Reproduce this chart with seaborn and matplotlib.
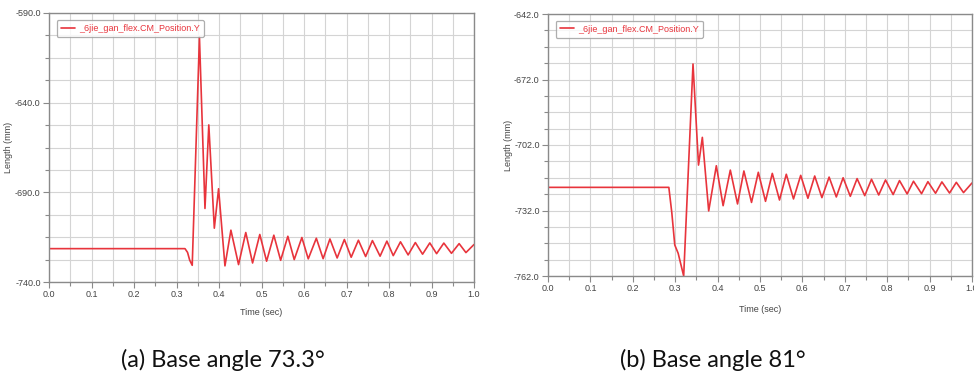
import matplotlib
matplotlib.use("Agg")
import matplotlib.pyplot as plt
import seaborn as sns
import pandas as pd
from matplotlib.ticker import MultipleLocator, FormatStrFormatter

# ---------------- data ----------------
series_label = "_6jie_gan_flex.CM_Position.Y"

time_a = [0.0, 0.320, 0.326, 0.331, 0.337, 0.354, 0.367, 0.376, 0.389, 0.399,
          0.414, 0.428, 0.446, 0.463, 0.479, 0.496, 0.512, 0.529, 0.545, 0.562,
          0.577, 0.595, 0.610, 0.629, 0.645, 0.661, 0.678, 0.695, 0.711, 0.728,
          0.745, 0.761, 0.779, 0.795, 0.810, 0.827, 0.845, 0.862, 0.879, 0.896,
          0.912, 0.929, 0.947, 0.965, 0.981, 1.0]
length_a = [-721.4, -721.4, -723.5, -727.8, -730.7, -603.4, -699.0, -652.4, -710.0, -688.0,
            -731.0, -711.1, -730.3, -712.4, -729.4, -713.5, -728.4, -713.9, -727.9, -714.5,
            -727.5, -715.2, -727.1, -715.6, -727.0, -716.0, -726.6, -716.3, -726.2, -716.7,
            -725.8, -716.9, -725.6, -717.2, -725.3, -717.6, -724.9, -718.0, -724.5, -718.2,
            -724.2, -718.3, -724.0, -718.6, -723.6, -719.1]

time_b = [0.0, 0.285, 0.292, 0.299, 0.307, 0.320, 0.342, 0.355, 0.364, 0.379,
          0.397, 0.413, 0.430, 0.447, 0.462, 0.480, 0.496, 0.513, 0.529, 0.546,
          0.562, 0.579, 0.596, 0.613, 0.629, 0.646, 0.663, 0.680, 0.696, 0.713,
          0.729, 0.747, 0.763, 0.780, 0.796, 0.814, 0.829, 0.847, 0.862, 0.881,
          0.896, 0.914, 0.929, 0.947, 0.963, 0.980, 1.0]
length_b = [-721.4, -721.4, -733.0, -747.8, -751.6, -762.0, -664.9, -711.2, -698.5, -732.2,
            -711.5, -729.8, -713.5, -729.0, -713.9, -728.3, -714.5, -727.8, -715.0, -727.2,
            -715.4, -726.7, -715.9, -726.4, -716.2, -726.1, -716.7, -725.8, -717.0, -725.5,
            -717.4, -725.2, -717.7, -724.9, -718.0, -724.7, -718.3, -724.4, -718.6, -724.3,
            -718.8, -724.1, -718.9, -724.0, -719.1, -723.8, -719.4]

ylim_a = (-740.0, -590.0)
ylim_b = (-762.0, -642.0)
caption_a = "(a) Base angle 73.3°"
caption_b = "(b) Base angle 81°"
xlabel = "Time (sec)"
ylabel = "Length (mm)"

# ---------------- style ----------------
sns.set_style("white")
plt.rcParams["font.family"] = ["Liberation Sans", "DejaVu Sans"]

LINE = "#e8343c"
GRID = "#d4d4d4"
SPINE = "#8a8a8a"
TXT = "#444444"

W, H = 974, 378
fig = plt.figure(figsize=(W / 100, H / 100), dpi=100)
fig.patch.set_facecolor("white")


def px_axes(x0, x1, ytop, ybot):
    return fig.add_axes([x0 / W, (H - ybot) / H, (x1 - x0) / W, (ybot - ytop) / H])


def style(ax, ylim, ymaj, ymin, ylab_x, xlab_y):
    ax.set_xlim(0, 1.0)
    ax.set_ylim(*ylim)
    top = ylim[1]
    ax.xaxis.set_major_locator(MultipleLocator(0.1))
    ax.xaxis.set_minor_locator(MultipleLocator(0.05))
    ax.yaxis.set_major_locator(MultipleLocator(ymaj, offset=top % ymaj))
    ax.yaxis.set_minor_locator(MultipleLocator(ymin, offset=top % ymin))
    ax.xaxis.set_major_formatter(FormatStrFormatter("%.1f"))
    ax.yaxis.set_major_formatter(FormatStrFormatter("%.1f"))
    ax.grid(True, which="both", color=GRID, linewidth=0.8)
    ax.set_axisbelow(True)
    for s in ax.spines.values():
        s.set_color(SPINE)
        s.set_linewidth(1.0)
    ax.tick_params(which="both", direction="out", color=SPINE, width=0.8,
                   labelsize=6.5, labelcolor=TXT, bottom=True, left=True, pad=2)
    ax.tick_params(which="major", length=4)
    ax.tick_params(which="minor", length=3)
    ax.set_xlabel(xlabel, fontsize=6.5, color=TXT)
    ax.set_ylabel(ylabel, fontsize=6.5, color=TXT)
    ax.yaxis.set_label_coords(ylab_x, 0.5)
    ax.xaxis.set_label_coords(0.5, xlab_y)


def draw(ax, t, y):
    df = pd.DataFrame({"Time": t, "Length": y, "series": "s"})
    sns.lineplot(data=df, x="Time", y="Length", hue="series", palette=[LINE],
                 sort=False, estimator=None, linewidth=1.2, ax=ax, legend=False)
    line = ax.get_lines()[0]
    leg = ax.legend([line], [series_label], loc="upper left",
                    bbox_to_anchor=(0.018, 0.975), fontsize=6.5,
                    labelcolor=LINE, frameon=True, fancybox=True,
                    handlelength=1.6, handletextpad=0.4, borderpad=0.45,
                    borderaxespad=0.0)
    leg.get_frame().set_edgecolor("#9a9a9a")
    leg.get_frame().set_linewidth(0.9)


ax1 = px_axes(49, 474, 13, 282)
draw(ax1, time_a, length_a)
style(ax1, ylim_a, 50, 12.5, -0.085, -0.095)

ax2 = px_axes(548, 972, 14, 276)
draw(ax2, time_b, length_b)
style(ax2, ylim_b, 30, 7.5, -0.082, -0.11)

fig.text(223 / W, 1 - 360 / H, caption_a, ha="center", va="center",
         fontsize=17, family=["Lato", "DejaVu Sans"], color="#111111")
fig.text(713 / W, 1 - 360 / H, caption_b, ha="center", va="center",
         fontsize=17, family=["Lato", "DejaVu Sans"], color="#111111")

fig.savefig("out.png", dpi=100, facecolor="white")
